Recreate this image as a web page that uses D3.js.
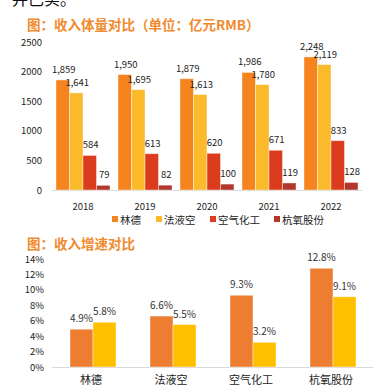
<!DOCTYPE html>
<html><head><meta charset="utf-8">
<script src="https://cdn.jsdelivr.net/npm/d3@7"></script>
<style>
body{margin:0;background:#fff;}
svg{display:block;font-family:"Noto Sans CJK SC","Liberation Sans",sans-serif;}
</style></head>
<body><svg id="c" width="377" height="388"></svg>
<script>
const years = ["2018","2019","2020","2021","2022"];
const companies = ["林德","法液空","空气化工","杭氧股份"];
const linde = [1859,1950,1879,1986,2248];
const airLiquide = [1641,1695,1613,1780,2119];
const airProducts = [584,613,620,671,833];
const hangyang = [79,82,100,119,128];
const revTicks = [0,500,1000,1500,2000,2500];
const growthCats = ["林德","法液空","空气化工","杭氧股份"];
const growth1 = [4.9,6.6,9.3,12.8];
const growth2 = [5.8,5.5,3.2,9.1];
const growthTicks = [0,2,4,6,8,10,12,14];

const svg = d3.select("#c");
const orange="#F08A2D";

// cut-off text at top
svg.append("text").attr("x",12).attr("y",5).attr("font-size",16).attr("fill","#111").text("并已实。");

// Chart 1
svg.append("text").attr("x",27).attr("y",30).attr("font-size",13.5).attr("font-weight","bold").attr("fill",orange).text("图：收入体量对比（单位：亿元RMB）");

const y1 = d3.scaleLinear().domain([0,2500]).range([190,42]);
const x1 = d3.scaleBand().domain(years).range([52,362]).paddingInner(0).paddingOuter(0);
const x1b = d3.scaleBand().domain(d3.range(4)).range([4,58]);
const series1 = [linde,airLiquide,airProducts,hangyang];
const cols1 = ["#F5841F","#FBBA2B","#DC3C1E","#B3382C"];

revTicks.forEach(t=>{
  svg.append("text").attr("x",42).attr("y",y1(t)+3.5).attr("text-anchor","end").attr("font-size",9.5).attr("fill","#222").text(t);
});
svg.append("line").attr("x1",52).attr("x2",362).attr("y1",190.5).attr("y2",190.5).attr("stroke","#d9d9d9");

series1.forEach((s,si)=>{
  years.forEach((yr,i)=>{
    const x = x1(yr)+x1b(si);
    svg.append("rect").attr("x",x).attr("y",y1(s[i])).attr("width",x1b.bandwidth()).attr("height",190-y1(s[i]))
      .attr("fill",cols1[si]).attr("stroke","rgba(255,255,255,0.5)").attr("stroke-width",0.8);
    svg.append("text").attr("x",x+x1b.bandwidth()/2+1).attr("y",y1(s[i])-7).attr("text-anchor","middle")
      .attr("font-size",9.5).attr("fill","#222").text(d3.format(",")(s[i]));
  });
});
years.forEach(yr=>{
  svg.append("text").attr("x",x1(yr)+x1.bandwidth()/2).attr("y",210).attr("text-anchor","middle").attr("font-size",9.5).attr("fill","#222").text(yr);
});
const legX=[112,156,210,274];
companies.forEach((c,i)=>{
  svg.append("rect").attr("x",legX[i]).attr("y",216).attr("width",6).attr("height",6).attr("fill",cols1[i]);
  svg.append("text").attr("x",legX[i]+8).attr("y",223.5).attr("font-size",10.5).attr("fill","#222").text(c);
});

// Chart 2
svg.append("text").attr("x",27).attr("y",249).attr("font-size",13.5).attr("font-weight","bold").attr("fill",orange).text("图：收入增速对比");
const y2 = d3.scaleLinear().domain([0,14]).range([367,259]);
const x2 = d3.scaleBand().domain(growthCats).range([53,373]).paddingInner(0).paddingOuter(0);
const x2b = d3.scaleBand().domain([0,1]).range([17,63]);
const series2=[growth1,growth2];
const cols2=["#ED7D31","#FFC000"];
growthTicks.forEach(t=>{
  svg.append("text").attr("x",44).attr("y",y2(t)+3.5).attr("text-anchor","end").attr("font-size",9.5).attr("fill","#222").text(t+"%");
});
svg.append("line").attr("x1",52).attr("x2",373).attr("y1",367.5).attr("y2",367.5).attr("stroke","#d9d9d9");
series2.forEach((s,si)=>{
  growthCats.forEach((c,i)=>{
    const x=x2(c)+x2b(si);
    svg.append("rect").attr("x",x).attr("y",y2(s[i])).attr("width",x2b.bandwidth()).attr("height",367-y2(s[i]))
      .attr("fill",cols2[si]).attr("stroke","rgba(255,255,255,0.5)").attr("stroke-width",0.8);
    svg.append("text").attr("x",x+x2b.bandwidth()/2).attr("y",y2(s[i])-7).attr("text-anchor","middle")
      .attr("font-size",10).attr("fill","#333").text(s[i].toFixed(1)+"%");
  });
});
growthCats.forEach(c=>{
  svg.append("text").attr("x",x2(c)+x2.bandwidth()/2-2).attr("y",384).attr("text-anchor","middle").attr("font-size",11).attr("fill","#222").text(c);
});
</script></body></html>
